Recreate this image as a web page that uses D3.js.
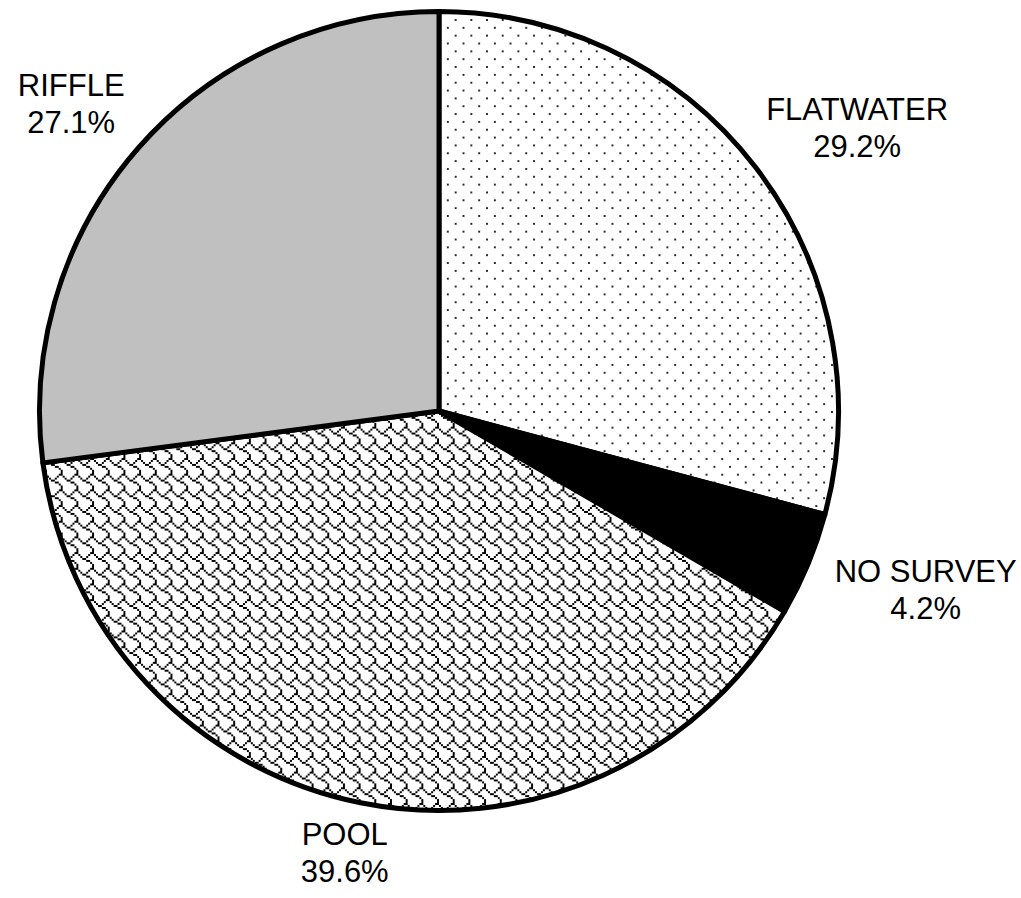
<!DOCTYPE html>
<html>
<head>
<meta charset="utf-8">
<script src="https://cdn.jsdelivr.net/npm/d3@7"></script>
<style>
  html, body { margin: 0; padding: 0; background: #fff; }
  svg { display: block; }
  text { font-family: "Liberation Sans", Arial, sans-serif; font-size: 31px; fill: #000; }
</style>
</head>
<body>
<svg id="chart" width="1021" height="898"></svg>
<script>
// Stream habitat composition (share of surveyed length)
const categories = ["FLATWATER", "NO SURVEY", "POOL", "RIFFLE"];
const percentages = [29.2, 4.2, 39.6, 27.1];
const fills = ["url(#dots)", "#000000", "url(#shingle)", "#c0c0c0"];

const H = 898;
const cx = 439, cy = 411, radius = 399.5;
const labelRadius = 436;
const lineGap = 37, capHeight = 22, bottomMargin = 16;

const svg = d3.select("#chart");
const defs = svg.append("defs");

// 8x8 bitmap fills, scaled up
const px = 1.96, tile = 8 * px;

function bitmapPattern(id, rows, color) {
  const p = defs.append("pattern")
    .attr("id", id)
    .attr("patternUnits", "userSpaceOnUse")
    .attr("width", tile).attr("height", tile);
  p.append("rect").attr("width", tile).attr("height", tile).attr("fill", "#fff");
  rows.forEach((bits, y) => {
    for (let x = 0; x < 8; x++) {
      if (bits & (0x80 >> x)) {
        p.append("rect")
          .attr("x", x * px).attr("y", y * px)
          .attr("width", px).attr("height", px)
          .attr("fill", color);
      }
    }
  });
}

bitmapPattern("dots", [0x80, 0x00, 0x00, 0x00, 0x08, 0x00, 0x00, 0x00], "#2a2a2a");
bitmapPattern("shingle", [0x03, 0x84, 0x48, 0x30, 0x0c, 0x02, 0x01, 0x01], "#000");

const pie = d3.pie().sort(null).value(d => d)
  .startAngle(0).endAngle(2 * Math.PI);
const arcs = pie(percentages);

const arc = d3.arc().innerRadius(0).outerRadius(radius);

const g = svg.append("g").attr("transform", `translate(${cx},${cy})`);

g.selectAll("path.slice")
  .data(arcs)
  .join("path")
  .attr("class", "slice")
  .attr("d", arc)
  .attr("fill", (d, i) => fills[i])
  .attr("stroke", "#000")
  .attr("stroke-width", 5)
  .attr("stroke-linejoin", "round");

// Labels: two lines, box pushed outward so its near edge sits on labelRadius,
// kept clear of the bottom edge of the page
const labels = g.selectAll("g.label")
  .data(arcs)
  .join("g")
  .attr("class", "label");

labels.each(function (d, i) {
  const lg = d3.select(this);
  const t1 = lg.append("text").attr("text-anchor", "middle").text(categories[i]);
  const t2 = lg.append("text").attr("text-anchor", "middle").text(percentages[i].toFixed(1) + "%");
  const w = Math.max(t1.node().getComputedTextLength(), t2.node().getComputedTextLength());
  const h = capHeight + lineGap;
  const a = (d.startAngle + d.endAngle) / 2;
  const sx = Math.sin(a), sy = -Math.cos(a);
  const bx = labelRadius * sx + sx * w / 2;
  let by = labelRadius * sy + sy * h / 2;
  const maxBottom = H - cy - bottomMargin;
  if (by + h / 2 > maxBottom) by = maxBottom - h / 2;
  const top = by - h / 2;
  t1.attr("x", bx).attr("y", top + capHeight);
  t2.attr("x", bx).attr("y", top + capHeight + lineGap);
});
</script>
</body>
</html>
